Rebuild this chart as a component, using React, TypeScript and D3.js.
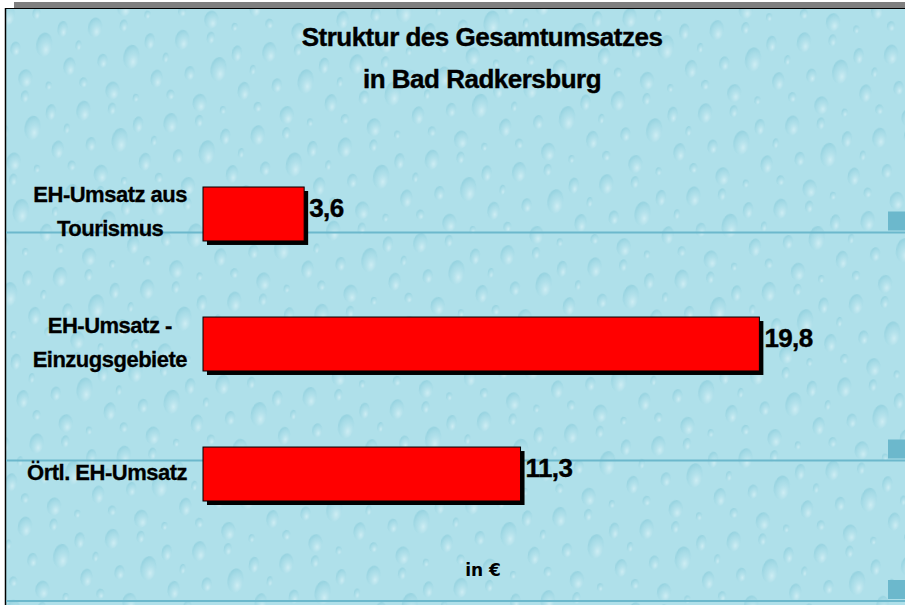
import React, { useMemo } from "react";
import * as d3 from "d3";

// ---- data ----
const categories: string[] = ["EH-Umsatz aus\nTourismus", "EH-Umsatz -\nEinzugsgebiete", "Örtl. EH-Umsatz"];
const values: number[] = [3.6, 19.8, 11.3];
const valueLabels: string[] = ["3,6", "19,8", "11,3"];
const titleLines: string[] = ["Struktur des Gesamtumsatzes", "in Bad Radkersburg"];
const axisTitle = "in €";

const W = 905;
const H = 605;
const LABEL_SIZE = 22;
const LABEL_SPACING = -0.5;
const LABEL_FONT = `bold ${LABEL_SIZE}px 'Liberation Sans'`;

function measure(text: string, font: string): number {
  if (typeof document === "undefined") return text.length * 10;
  const c = document.createElement("canvas");
  const ctx = c.getContext("2d");
  if (!ctx) return text.length * 10;
  ctx.font = font;
  return ctx.measureText(text).width;
}

export default function App() {
  const x = d3.scaleLinear().domain([0, 20]).range([203, 765]);
  const y = d3
    .scaleBand<string>()
    .domain(categories)
    .range([148, 540])
    .paddingInner(0.585)
    .paddingOuter(0.3);

  const labelRight = 187;
  const labelInfo = useMemo(
    () =>
      categories.map((c) => {
        const lines = c.split("\n");
        const maxW = Math.max(...lines.map((l) => measure(l, LABEL_FONT) + LABEL_SPACING * l.length));
        return { lines, cx: labelRight - maxW / 2 };
      }),
    []
  );

  // decorative drops for background texture
  const drops = [
    { cx: 10, cy: 14, rx: 7, ry: 10 },
    { cx: 38, cy: 8, rx: 4, ry: 6 },
    { cx: 50, cy: 38, rx: 8, ry: 12 },
    { cx: 22, cy: 46, rx: 5, ry: 7 },
    { cx: 66, cy: 20, rx: 5, ry: 8 },
    { cx: 78, cy: 56, rx: 6, ry: 9 },
    { cx: 6, cy: 70, rx: 4, ry: 5 },
    { cx: 36, cy: 74, rx: 7, ry: 9 },
    { cx: 60, cy: 78, rx: 3, ry: 4 },
    { cx: 84, cy: 34, rx: 3, ry: 5 },
  ];

  const lineColor = "#6cb8cc";
  const decoY = [232.5, 460.5, 601];

  return (
    <svg
      width={W}
      height={H}
      style={{ position: "absolute", left: 0, top: 0, display: "block" }}
      fontFamily="'Liberation Sans', Arial, sans-serif"
    >
      <defs>
        <radialGradient id="dropG" cx="0.65" cy="0.7" r="0.7">
          <stop offset="0" stopColor="#e8f8fb" stopOpacity="0.55" />
          <stop offset="0.6" stopColor="#a3d9e5" stopOpacity="0.35" />
          <stop offset="1" stopColor="#7fc6d6" stopOpacity="0.5" />
        </radialGradient>
        <pattern id="drops" width="88" height="84" patternUnits="userSpaceOnUse" patternTransform="rotate(8)">
          <rect width="88" height="84" fill="#afe0ea" />
          {drops.map((d, i) => (
            <ellipse key={i} cx={d.cx} cy={d.cy} rx={d.rx} ry={d.ry} fill="url(#dropG)" />
          ))}
        </pattern>
      </defs>
      <rect x={0} y={0} width={W} height={H} fill="#ffffff" />
      {/* top grey bar */}
      <rect x={14} y={2} width={W - 14} height={6} fill="#7f7f7f" />
      {/* background */}
      <rect x={5} y={8.5} width={W - 5} height={H - 8.5} fill="url(#drops)" />
      <line x1={5} x2={W} y1={8.5} y2={8.5} stroke="#000" strokeWidth={1} />
      <line x1={5.5} x2={5.5} y1={8} y2={H} stroke="#000" strokeWidth={1.5} />
      {/* decorative tile lines */}
      {decoY.map((yy, i) => (
        <g key={i}>
          <line x1={6} x2={W} y1={yy} y2={yy} stroke={lineColor} strokeWidth={2} />
          <rect x={888} y={yy - 21} width={W - 888} height={19} fill={lineColor} />
        </g>
      ))}

      {/* title */}
      {titleLines.map((t, i) => (
        <text
          key={i}
          x={482}
          y={46 + i * 42}
          textAnchor="middle"
          fontSize={26}
          fontWeight="bold"
          letterSpacing={-0.5}
          stroke="#000"
          strokeWidth={0.4}
          fill="#000"
        >
          {t}
        </text>
      ))}

      {/* bars */}
      {categories.map((c, i) => {
        const y0 = y(c) as number;
        const bw = y.bandwidth();
        const x0 = x(0);
        const x1 = x(values[i]);
        return (
          <g key={c}>
            <rect x={x0 + 4} y={y0 + 4} width={x1 - x0} height={bw} fill="#000" />
            <rect x={x0} y={y0} width={x1 - x0} height={bw} fill="#ff0000" stroke="#000" strokeWidth={1} />
            <text
              x={x1 + 5}
              y={y0 + bw / 2 + 3}
              fontSize={26}
              fontWeight="bold"
              letterSpacing={-0.6}
              stroke="#000"
              strokeWidth={0.4}
              fill="#000"
            >
              {valueLabels[i]}
            </text>
          </g>
        );
      })}

      {/* category labels */}
      {categories.map((c, i) => {
        const info = labelInfo[i];
        const yc = (y(c) as number) + y.bandwidth() / 2;
        const n = info.lines.length;
        const lh = 34;
        return (
          <text
            key={c}
            fontSize={LABEL_SIZE}
            fontWeight="bold"
            letterSpacing={LABEL_SPACING}
            textAnchor="middle"
            stroke="#000"
            strokeWidth={0.3}
            fill="#000"
          >
            {info.lines.map((l, j) => (
              <tspan key={j} x={info.cx} y={yc - 2 + (j - (n - 1) / 2) * lh + 7.5}>
                {l}
              </tspan>
            ))}
          </text>
        );
      })}

      {/* axis title */}
      <text
        x={483}
        y={576}
        textAnchor="middle"
        fontFamily="'DejaVu Sans', sans-serif"
        fontSize={17}
        fontWeight="bold"
        fill="#000"
      >
        {axisTitle}
      </text>
    </svg>
  );
}
